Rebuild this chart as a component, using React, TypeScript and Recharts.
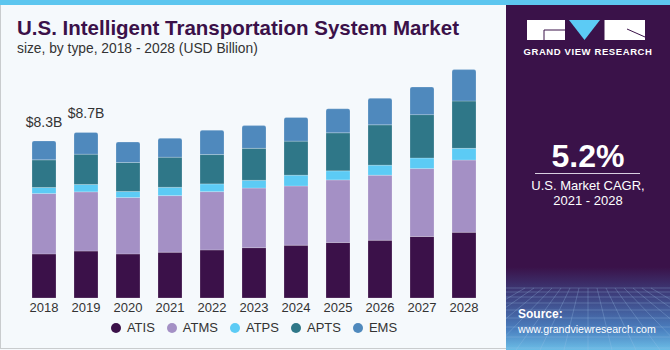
import React from 'react'
import { BarChart, Bar, XAxis, YAxis, LabelList } from 'recharts'

// values in USD billion
const years = ['2018', '2019', '2020', '2021', '2022', '2023', '2024', '2025', '2026', '2027', '2028']
const atis = [2.33, 2.48, 2.33, 2.42, 2.54, 2.66, 2.79, 2.93, 3.05, 3.25, 3.47]
const atms = [3.19, 3.13, 2.98, 2.99, 3.08, 3.15, 3.13, 3.31, 3.44, 3.59, 3.82]
const atps = [0.32, 0.39, 0.32, 0.44, 0.41, 0.41, 0.57, 0.48, 0.53, 0.56, 0.62]
const apts = [1.46, 1.6, 1.53, 1.59, 1.55, 1.69, 1.8, 2.01, 2.13, 2.29, 2.5]
const ems = [1.0, 1.15, 1.08, 1.0, 1.29, 1.2, 1.25, 1.27, 1.4, 1.46, 1.66]
const totalLabels = ['$8.3B', '$8.7B', '', '', '', '', '', '', '', '', '']

const series = [
  { key: 'ATIS', color: '#3b1149' },
  { key: 'ATMS', color: '#a490c5' },
  { key: 'ATPS', color: '#5ccbf5' },
  { key: 'APTS', color: '#2f7788' },
  { key: 'EMS', color: '#4f89bd' },
]

const data = years.map((year, i) => ({
  year,
  ATIS: atis[i],
  ATMS: atms[i],
  ATPS: atps[i],
  APTS: apts[i],
  EMS: ems[i],
  label: totalLabels[i],
}))

const FONT = '"Liberation Sans", Arial, sans-serif'
const PURPLE = '#3a1249'

function Logo() {
  return (
    <svg width={122} height={22} viewBox="0 0 122 22">
      <rect x={0} y={0} width={38} height={20} fill="#fff" />
      <path d="M17 10 H38 M17 10 V20" stroke={PURPLE} strokeWidth={1} fill="none" />
      <polygon points="42,0 73,0 57.5,20" fill="#5ccbf5" />
      <rect x={77} y={0} width={41} height={20} fill="#fff" />
      <path d="M77 0 V20 M100 9 L118 17" stroke={PURPLE} strokeWidth={1} fill="none" />
    </svg>
  )
}

function Mesh() {
  const rows = [0, 4, 9, 15, 22, 30, 39, 49, 60]
  const cols = Array.from({ length: 15 }, (_, i) => i)
  return (
    <svg width={164} height={70} style={{ position: 'absolute', left: 0, bottom: 0 }}>
      {rows.map((r) => (
        <line key={`r${r}`} x1={0} x2={164} y1={8 + r} y2={8 + r} stroke="#9fc6ea" strokeOpacity={0.35} strokeWidth={0.8} />
      ))}
      {cols.map((c) => (
        <line key={`c${c}`} x1={82 + (c - 7) * 9} y1={8} x2={82 + (c - 7) * 24} y2={70} stroke="#9fc6ea" strokeOpacity={0.35} strokeWidth={0.8} />
      ))}
    </svg>
  )
}

export default function App() {
  return (
    <div style={{ position: 'relative', width: 670, height: 350, background: '#f5f9fc', overflow: 'hidden', fontFamily: FONT }}>
      <style>{`body{margin:0}`}</style>

      {/* panel frame */}
      <div style={{ position: 'absolute', left: 0, top: 0, width: 506, height: 349, borderLeft: '1px solid #c9ccce', borderBottom: '1px solid #c9ccce', boxSizing: 'border-box' }} />
      <div style={{ position: 'absolute', left: 0, top: 0, width: 670, height: 5, background: '#5dc6ef' }} />

      <div style={{ position: 'absolute', left: 17, top: 16, fontSize: 20.5, fontWeight: 700, color: '#3b1149', whiteSpace: 'nowrap' }}>
        U.S. Intelligent Transportation System Market
      </div>
      <div style={{ position: 'absolute', left: 17, top: 41, fontSize: 13.8, color: '#333', whiteSpace: 'nowrap' }}>
        size, by type, 2018 - 2028 (USD Billion)
      </div>

      <div style={{ position: 'absolute', left: 0, top: 0 }}>
        <BarChart width={506} height={350} data={data} margin={{ top: 52, right: 21, left: 23, bottom: 22 }}>
          <XAxis
            dataKey="year"
            height={30}
            axisLine={false}
            tickLine={false}
            tickSize={5}
            tickMargin={0}
            interval={0}
            tick={{ fontSize: 13, fill: '#333', fontFamily: FONT }}
          />
          <YAxis hide domain={[0, 13]} />
          {series.map((s, i) => (
            <Bar
              key={s.key}
              dataKey={s.key}
              stackId="a"
              fill={s.color}
              barSize={24}
              stroke="#ffffff"
              strokeOpacity={0.35}
              strokeWidth={0.6}
              radius={i === series.length - 1 ? [2, 2, 0, 0] : 0}
              isAnimationActive={false}
            >
              {i === series.length - 1 && (
                <LabelList dataKey="label" position="top" offset={14} style={{ fontSize: 14, fill: '#333', fontFamily: FONT }} />
              )}
            </Bar>
          ))}
        </BarChart>
      </div>

      {/* legend */}
      <div style={{ position: 'absolute', left: 23, top: 320, width: 462, display: 'flex', justifyContent: 'center', alignItems: 'center', gap: 12, fontSize: 13, color: '#333' }}>
        {series.map((s) => (
          <div key={s.key} style={{ display: 'flex', alignItems: 'center', gap: 6 }}>
            <span style={{ width: 10, height: 10, borderRadius: '50%', background: s.color, display: 'inline-block' }} />
            <span>{s.key}</span>
          </div>
        ))}
      </div>

      {/* right panel */}
      <div
        style={{
          position: 'absolute',
          left: 506,
          top: 5,
          width: 164,
          height: 345,
          background: `linear-gradient(to bottom, ${PURPLE} 0%, ${PURPLE} 76%, #3d3f7d 84%, #4a7fbf 94%, #6bbde6 100%)`,
          color: '#fff',
          textAlign: 'center',
        }}
      >
        <Mesh />
        <div style={{ position: 'absolute', left: 21, top: 15 }}>
          <Logo />
        </div>
        <div style={{ position: 'absolute', left: 0, top: 41, width: 164, fontSize: 9.5, fontWeight: 700, letterSpacing: 0.6, whiteSpace: 'nowrap' }}>
          GRAND VIEW RESEARCH
        </div>
        <div style={{ position: 'absolute', left: 0, top: 133, width: 164, fontSize: 32, fontWeight: 700 }}>5.2%</div>
        <div style={{ position: 'absolute', left: 29, top: 168, width: 105, height: 1, background: '#d8cfe0' }} />
        <div style={{ position: 'absolute', left: 0, top: 173, width: 164, fontSize: 13, lineHeight: '15px' }}>
          U.S. Market CAGR,
          <br />
          2021 - 2028
        </div>
        <div style={{ position: 'absolute', left: 12, top: 302, fontSize: 12, textAlign: 'left', lineHeight: '15px' }}>
          <div style={{ fontWeight: 700 }}>Source:</div>
          <div style={{ fontSize: 10.6 }}>www.grandviewresearch.com</div>
        </div>
      </div>
    </div>
  )
}
